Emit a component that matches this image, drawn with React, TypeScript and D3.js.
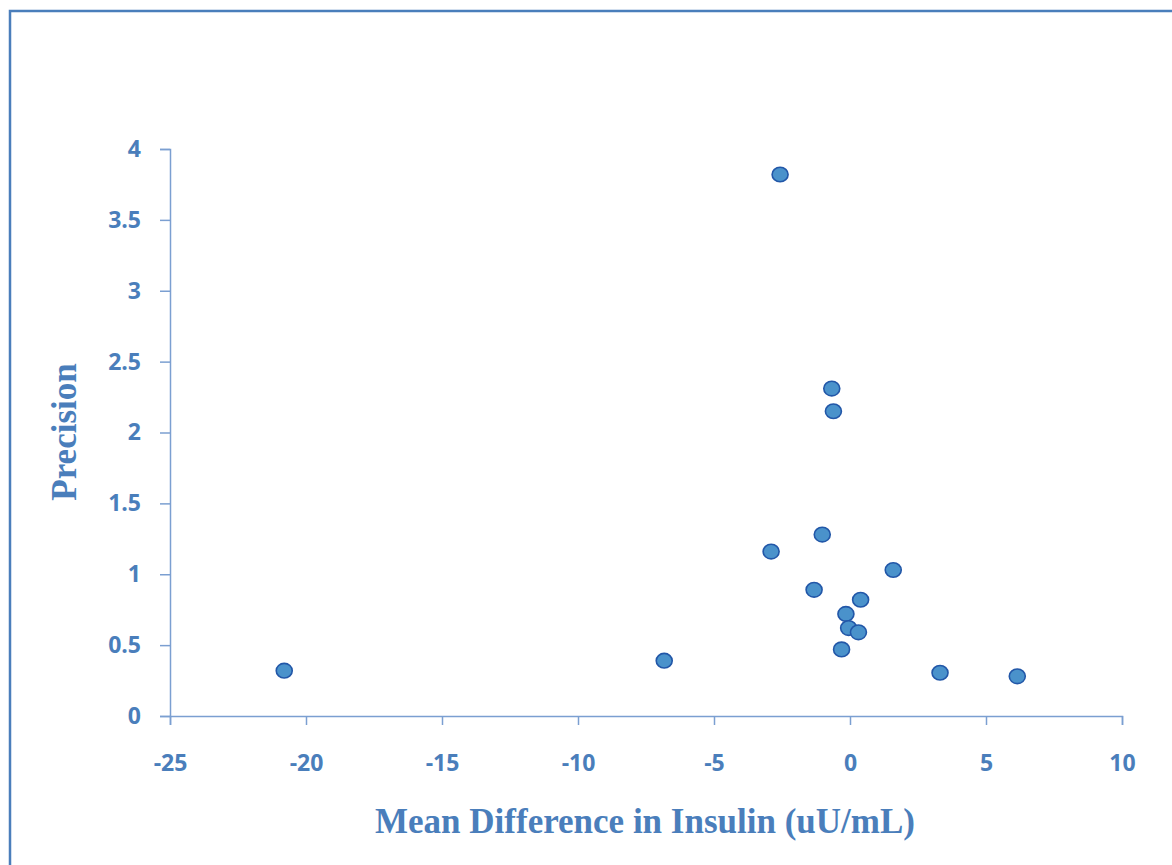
import React, { useEffect, useRef } from "react";
import * as d3 from "d3";

const meanDiff = [-20.8, -6.83, -2.57, -0.67, -0.61, -1.02, -2.9, 1.59, -1.32, 0.39, -0.15, -0.05, 0.31, -0.31, 3.31, 6.15];
const precision = [0.32, 0.39, 3.82, 2.31, 2.15, 1.28, 1.16, 1.03, 0.89, 0.82, 0.72, 0.62, 0.59, 0.47, 0.305, 0.28];
const xTicks = [-25, -20, -15, -10, -5, 0, 5, 10];
const yTicks = [0, 0.5, 1, 1.5, 2, 2.5, 3, 3.5, 4];

const W = 1172;
const H = 865;
const textBlue = "#4a7ebb";
const axisBlue = "#7b9fd1";

const App = () => {
  const ref = useRef(null);

  useEffect(() => {
    const svg = d3.select(ref.current);
    svg.selectAll("*").remove();

    const x = d3.scaleLinear().domain([-25, 10]).range([170, 1122]);
    const y = d3.scaleLinear().domain([0, 4]).range([716, 149]);

    // outer frame
    svg.append("rect")
      .attr("x", 10).attr("y", 11)
      .attr("width", 1200).attr("height", 900)
      .attr("fill", "none")
      .attr("stroke", "#4a7ebb")
      .attr("stroke-width", 2.5);

    const xAxis = svg.append("g")
      .attr("transform", `translate(0,${y(0)})`)
      .call(d3.axisBottom(x).tickValues(xTicks).tickSize(9).tickSizeOuter(9).tickFormat(d => String(d)));

    const yAxis = svg.append("g")
      .attr("transform", `translate(${x(-25)},0)`)
      .call(d3.axisLeft(y).tickValues(yTicks).tickSize(10).tickSizeOuter(10).tickFormat(d => String(d)));

    [xAxis, yAxis].forEach(g => {
      g.select(".domain").attr("stroke", axisBlue).attr("stroke-width", 1.5);
      g.selectAll(".tick line").attr("stroke", axisBlue).attr("stroke-width", 1.5);
      g.selectAll(".tick text")
        .attr("fill", textBlue)
        .style("font-family", "'Open Sans', 'Liberation Sans', sans-serif")
        .style("font-weight", "bold")
        .style("font-size", "23px");
    });
    xAxis.selectAll(".tick text").attr("y", 55).attr("dy", 0);
    yAxis.selectAll(".tick text").attr("x", -29);

    svg.selectAll("ellipse.pt")
      .data(meanDiff)
      .enter()
      .append("ellipse")
      .attr("class", "pt")
      .attr("cx", d => x(d))
      .attr("cy", (d, i) => y(precision[i]))
      .attr("rx", 8)
      .attr("ry", 7.3)
      .attr("fill", "#4a92cb")
      .attr("stroke", "#2257a8")
      .attr("stroke-width", 1.6);

    svg.append("text")
      .attr("transform", `translate(76,432) rotate(-90)`)
      .attr("text-anchor", "middle")
      .attr("fill", textBlue)
      .style("font-family", "'Liberation Serif', 'DejaVu Serif', serif")
      .style("font-weight", "bold")
      .style("font-size", "35px")
      .text("Precision");

    svg.append("text")
      .attr("x", 645)
      .attr("y", 833)
      .attr("text-anchor", "middle")
      .attr("fill", textBlue)
      .style("font-family", "'Liberation Serif', 'DejaVu Serif', serif")
      .style("font-weight", "bold")
      .style("font-size", "35px")
      .text("Mean Difference in Insulin (uU/mL)");
  }, []);

  return (
    <svg
      ref={ref}
      width={W}
      height={H}
      style={{ position: "absolute", left: 0, top: 0, background: "#fff" }}
    />
  );
};

export default App;
